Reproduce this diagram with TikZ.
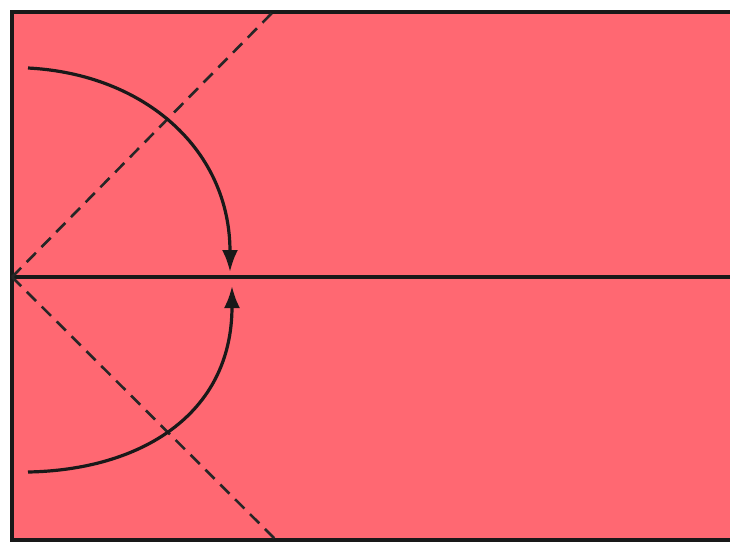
\documentclass[tikz,border=0pt]{standalone}
\usepackage{tikz}
\usepackage{xcolor}
\usetikzlibrary{arrows.meta}
\definecolor{panelpink}{RGB}{255,104,114}

\begin{document}
\begin{tikzpicture}[
  x=1pt, y=-1pt,
  frame/.style={line width=3.6pt, draw=black!90},
  axis/.style={line width=3.4pt, draw=black!90},
  guide/.style={line width=2.6pt, draw=black!85, dash pattern=on 13pt off 8pt},
  flow/.style={line width=3.2pt, draw=black!90, -{Latex[length=22pt, width=16pt]}}
]
  %% -- canvas and panel --------------------------------------------
  \fill[white] (0,0) rectangle (730,547);
  \useasboundingbox (0,0) rectangle (730,547);
  \fill[panelpink] (12,12) rectangle (730,540);

  %% -- points --------------------------------------------------------
  \coordinate (tl) at (12,12);
  \coordinate (tr) at (730,12);
  \coordinate (bl) at (12,540);
  \coordinate (br) at (730,540);
  \coordinate (origin) at (12,277);
  \coordinate (axisend) at (730,277);
  \coordinate (upguide) at (273,12);
  \coordinate (downguide) at (276,540);
  \coordinate (topstart) at (28,68);
  \coordinate (topend) at (230,272);
  \coordinate (botstart) at (28,472);
  \coordinate (botend) at (232,286);

  %% -- frame (open on the right) -----------------------------------
  \draw[frame] (tr) -- (tl) -- (bl) -- (br);

  %% -- axis and dashed guides ----------------------------------------
  \draw[axis] (origin) -- (axisend);
  \draw[guide] (origin) -- (upguide);
  \draw[guide] (origin) -- (downguide);

  %% -- curved arrows --------------------------------------------------
  \draw[flow] (topstart) .. controls (145,74) and (230,150) .. (topend);
  \draw[flow] (botstart) .. controls (140,470) and (232,415) .. (botend);
\end{tikzpicture}
\end{document}
